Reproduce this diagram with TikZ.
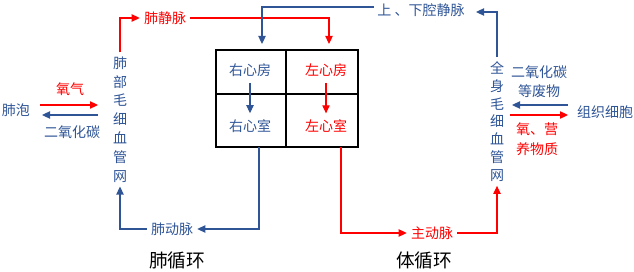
\documentclass[tikz,border=0pt]{standalone}
\usepackage{fontspec}
\setmainfont{Noto Sans CJK SC}
\usetikzlibrary{arrows.meta}
\definecolor{vblue}{RGB}{47,85,151}
\definecolor{vred}{RGB}{255,0,0}
\tikzset{
  lbl/.style={font=\fontsize{10.5}{12}\selectfont,inner sep=3pt},
  blue lbl/.style={lbl,text=vblue},
  red lbl/.style={lbl,text=vred},
  pair/.style={align=center,font=\fontsize{10.5}{14.6}\selectfont},
  vtext/.style={align=center,inner sep=3pt},
  chamber/.style={lbl,inner sep=4.5pt},
  title/.style={font=\fontsize{14}{16}\selectfont,inner sep=0pt},
  heart/.style={line width=0.9pt},
  flowb/.style={line width=0.8pt,vblue,-{Triangle[length=6pt,width=5.5pt]}},
  flowr/.style={line width=0.8pt,vred,-{Triangle[length=6pt,width=5.5pt]}},
}
\begin{document}
\begin{tikzpicture}[x=0.75pt,y=-0.75pt]
    \useasboundingbox (0,0) rectangle (634,271);
    % heart: four chambers
    \coordinate (hnw) at (216,50);
    \coordinate (hse) at (358,147);
    \draw[heart] (hnw) rectangle (hse);
    \draw[heart] (286,50) -- (286,147);
    \draw[heart] (216,94) -- (358,94);
    \node[chamber,text=vblue] (ra) at (250,70) {右心房};
    \node[chamber,text=vblue] (rv) at (250,126) {右心室};
    \node[chamber,text=vred] (la) at (326,70) {左心房};
    \node[chamber,text=vred] (lv) at (326,126) {左心室};
    \draw[flowb] (ra.south) -- (rv.north);
    \draw[flowr] (la.south) -- (lv.north);
    % ports on the heart box
    \coordinate (raIn) at (262,44);
    \coordinate (laIn) at (329,44);
    \coordinate (rvOut) at (259,147);
    \coordinate (lvOut) at (341,147);
    % pulmonary side
    \node[blue lbl] (alv) at (16,110) {肺泡};
    \node[blue lbl,vtext,font=\fontsize{10.5}{14.1}\selectfont] (lcap) at (120,119.5)
      {肺\\部\\毛\\细\\血\\管\\网};
    \node[red lbl] (o2l) at (70,89) {氧气};
    \node[blue lbl] (co2l) at (72,132) {二氧化碳};
    \coordinate (lo2a) at (40,105);
    \coordinate (lo2b) at (98,105);
    \coordinate (lco2a) at (98,115);
    \coordinate (lco2b) at (42,115);
    \draw[flowr] (lo2a) -- (lo2b);
    \draw[flowb] (lco2a) -- (lco2b);
    \node[red lbl] (pv) at (165,18) {肺静脉};
    \node[blue lbl] (pa) at (172,229) {肺动脉};
    \draw[flowr] (lcap.north) |- (pv.west);
    \draw[flowr] (pv.east) -| (laIn);
    \draw[flowb] (rvOut) |- (pa.east);
    \draw[flowb] (pa.west) -| (lcap.south);
    % systemic side
    \node[blue lbl] (vc) at (421,10) {上\ 、下腔静脉};
    \node[red lbl] (ao) at (432,233) {主动脉};
    \node[blue lbl,vtext,font=\fontsize{10.5}{13.4}\selectfont] (scap) at (497,121.5)
      {全\\身\\毛\\细\\血\\管\\网};
    \coordinate (vcL) at (374,7);
    \coordinate (vcR) at (476,12);
    \draw[flowb] (vcL) -| (raIn);
    \draw[flowb] (scap.north) |- (vcR);
    \draw[flowr] (lvOut) |- (ao.west);
    \draw[flowr] (ao.east) -| (scap.south);
    \node[blue lbl,pair] (waste) at (539,81.5) {二氧化碳\\等废物};
    \node[red lbl,pair,font=\fontsize{10.5}{15}\selectfont] (food) at (537,139) {氧、营\\养物质};
    \node[blue lbl] (cell) at (605,112) {组织细胞};
    \coordinate (rco2a) at (568,105);
    \coordinate (rco2b) at (512,105);
    \coordinate (ro2a) at (510,115);
    \coordinate (ro2b) at (568,115);
    \draw[flowb] (rco2a) -- (rco2b);
    \draw[flowr] (ro2a) -- (ro2b);
    % captions
    \node[title] (pulm) at (177,260) {肺循环};
    \node[title] (syst) at (424,260) {体循环};
\end{tikzpicture}
\end{document}
